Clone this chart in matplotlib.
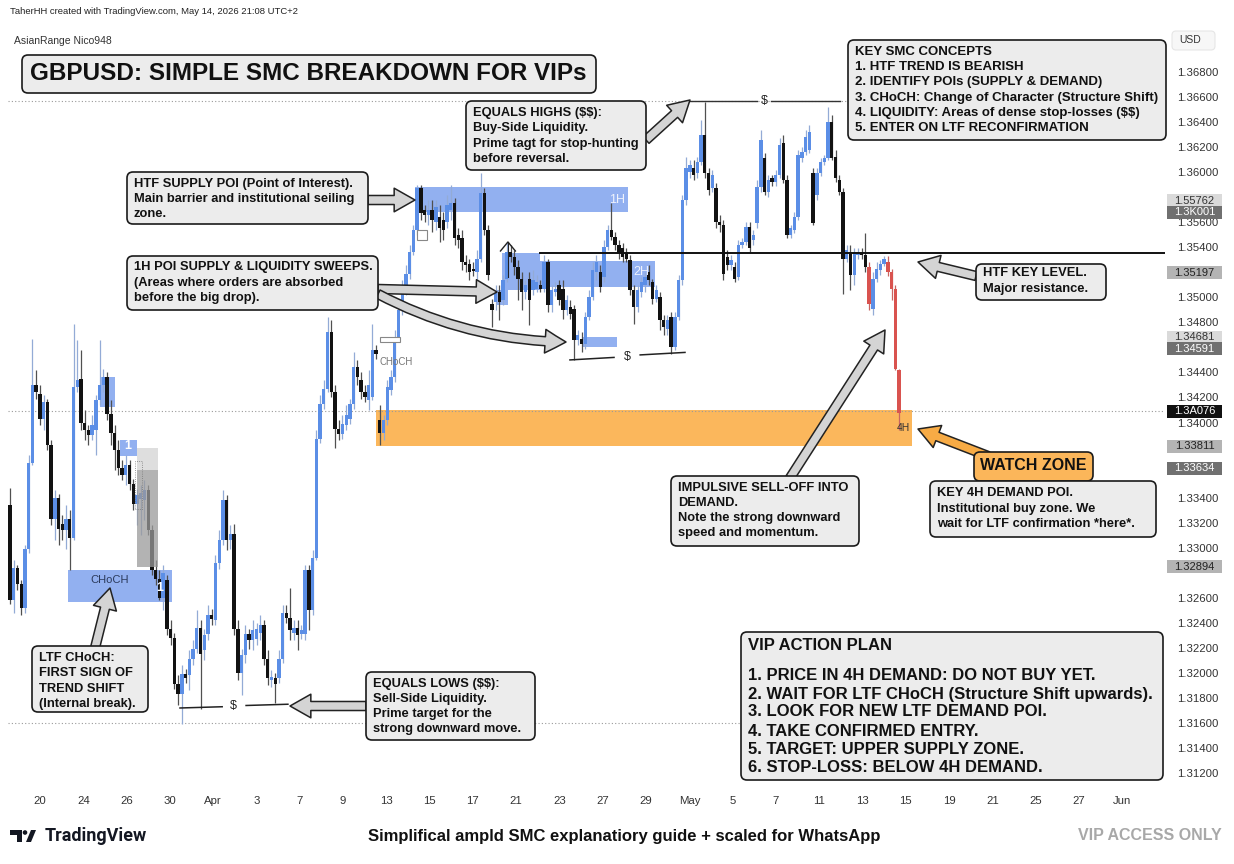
import numpy as np
import matplotlib
matplotlib.use("Agg")
import matplotlib.pyplot as plt
from matplotlib.patches import Rectangle, FancyBboxPatch, FancyArrowPatch, Circle, Polygon, ArrowStyle
from matplotlib.transforms import Affine2D

plt.rcParams['font.family'] = ['Liberation Sans', 'DejaVu Sans']
plt.rcParams['text.parse_math'] = False

W, H = 1234, 864
BASE, PIP = 1.3, 0.0001

# OHLC per bar, in pips above 1.30000
opens = [334, 258, 284, 271, 252, 299, 368, 430, 423, 403,
         416, 382, 323, 340, 319, 314, 323, 308, 428, 435,
         400, 394, 390, 394, 418, 430, 436, 407, 392, 378,
         364, 358, 366, 351, 335, 339, 338, 346, 314, 282,
         275, 260, 274, 235, 228, 191, 183, 199, 198, 211,
         219, 236, 218, 231, 246, 242, 288, 306, 338, 306,
         311, 235, 200, 214, 231, 226, 227, 232, 238, 211,
         194, 196, 196, 211, 248, 244, 232, 236, 231, 231,
         282, 250, 292, 387, 415, 427, 472, 424, 395, 391,
         398, 403, 415, 444, 434, 424, 418, 420, 458, 402,
         392, 402, 426, 436, 468, 490, 506, 519, 536, 554,
         587, 570, 566, 570, 560, 564, 562, 560, 570, 575,
         550, 547, 528, 527, 523, 520, 531, 583, 554, 495,
         496, 504, 498, 515, 536, 532, 524, 515, 504, 515,
         506, 507, 510, 507, 528, 494, 504, 510, 507, 490,
         492, 491, 466, 467, 463, 484, 500, 520, 520, 516,
         540, 554, 548, 542, 539, 535, 530, 506, 492, 504,
         510, 520, 512, 499, 500, 482, 475, 484, 460, 484,
         514, 578, 600, 603, 599, 608, 630, 599, 587, 587,
         560, 558, 532, 526, 524, 516, 542, 544, 556, 546,
         559, 588, 611, 584, 595, 592, 598, 623, 594,
         550, 554, 564, 611, 616, 618, 599, 582, 599, 608,
         611, 640, 612, 594, 584, 531, 536, 518, 534, 536,
         534, 524, 491, 515, 522, 527, 528, 520, 507, 442]
closes = [258, 284, 271, 252, 299, 368, 430, 424, 403, 416,
          382, 323, 340, 315, 314, 323, 308, 428, 434, 400,
          394, 390, 398, 418, 430, 436, 407, 392, 378, 364,
          358, 366, 351, 335, 342, 344, 346, 314, 282, 275,
          260, 280, 235, 228, 191, 183, 199, 196, 211, 219,
          236, 215, 230, 246, 243, 288, 306, 338, 306, 311,
          235, 200, 214, 231, 226, 234, 235, 238, 211, 196,
          197, 191, 211, 248, 244, 234, 236, 230, 234, 282,
          250, 292, 387, 415, 427, 472, 424, 395, 391, 399,
          406, 415, 444, 436, 424, 420, 430, 458, 455, 392,
          402, 428, 436, 468, 490, 508, 519, 536, 554, 587,
          567, 566, 570, 562, 572, 555, 554, 574, 575, 547,
          546, 528, 526, 520, 521, 531, 583, 554, 518, 490,
          504, 496, 514, 536, 532, 524, 515, 504, 510, 498,
          514, 512, 507, 528, 494, 506, 507, 498, 490, 498,
          487, 466, 470, 463, 484, 500, 522, 528, 508, 540,
          554, 548, 542, 535, 532, 531, 506, 492, 506, 512,
          516, 514, 499, 506, 482, 476, 482, 460, 484, 514,
          578, 603, 606, 598, 608, 630, 599, 586, 598, 560,
          558, 519, 526, 530, 515, 542, 544, 556, 539, 550,
          588, 626, 584, 594, 592, 598, 622, 594, 550,
          555, 564, 614, 616, 628, 632, 559, 599, 608, 611,
          640, 611, 595, 584, 531, 538, 518, 536, 536, 534,
          524, 495, 515, 523, 527, 531, 520, 507, 443, 408]
highs = [348, 290, 286, 274, 302, 374, 467, 442, 430, 422,
         419, 386, 346, 343, 326, 334, 330, 479, 466, 458,
         410, 398, 406, 422, 466, 443, 440, 418, 398, 386,
         370, 374, 370, 355, 347, 350, 354, 350, 318, 290,
         282, 286, 278, 242, 232, 198, 206, 203, 218, 226,
         250, 242, 235, 254, 251, 294, 314, 346, 342, 318,
         319, 242, 219, 238, 235, 242, 240, 246, 242, 218,
         202, 200, 218, 254, 254, 268, 242, 242, 238, 286,
         286, 298, 394, 422, 434, 484, 482, 430, 402, 406,
         414, 419, 456, 450, 440, 430, 442, 479, 462, 414,
         406, 434, 442, 474, 494, 514, 526, 542, 558, 590,
         590, 574, 578, 578, 578, 574, 568, 582, 590, 579,
         555, 554, 534, 531, 528, 538, 599, 587, 558, 499,
         510, 510, 518, 544, 542, 538, 530, 520, 514, 520,
         522, 518, 514, 534, 531, 510, 512, 514, 514, 502,
         498, 494, 474, 472, 488, 506, 528, 534, 526, 546,
         558, 575, 552, 546, 543, 539, 534, 510, 510, 516,
         520, 526, 515, 510, 504, 486, 486, 488, 488, 518,
         582, 612, 610, 610, 612, 642, 656, 603, 602, 591,
         566, 562, 538, 534, 528, 546, 547, 560, 560, 554,
         594, 634, 615, 598, 598, 602, 627, 630, 598,
         558, 568, 618, 620, 634, 638, 603, 603, 611, 614,
         652, 646, 618, 598, 587, 542, 542, 539, 539, 539,
         551, 528, 520, 528, 530, 533, 533, 523, 510, 443]
lows = [255, 248, 266, 246, 248, 296, 366, 419, 398, 394,
        378, 318, 306, 302, 306, 299, 282, 306, 424, 394,
        386, 382, 386, 374, 414, 424, 402, 382, 362, 358,
        354, 350, 346, 330, 318, 310, 322, 310, 278, 270,
        258, 250, 230, 222, 187, 174, 159, 192, 186, 206,
        216, 171, 210, 226, 238, 238, 283, 302, 298, 299,
        230, 194, 182, 208, 219, 218, 222, 226, 206, 190,
        189, 176, 192, 208, 240, 226, 226, 218, 227, 226,
        234, 246, 290, 384, 411, 424, 420, 380, 386, 387,
        394, 399, 411, 430, 419, 416, 410, 418, 451, 382,
        386, 398, 422, 432, 464, 486, 502, 515, 534, 550,
        562, 560, 558, 552, 554, 544, 546, 555, 562, 542,
        539, 522, 520, 514, 517, 515, 528, 550, 514, 476,
        490, 482, 494, 512, 528, 518, 498, 490, 499, 478,
        502, 504, 504, 504, 488, 488, 501, 494, 483, 486,
        483, 450, 462, 456, 459, 482, 498, 514, 504, 512,
        538, 546, 538, 531, 528, 528, 502, 479, 488, 500,
        504, 510, 495, 496, 474, 470, 470, 455, 458, 482,
        510, 574, 595, 594, 595, 606, 595, 582, 584, 555,
        552, 514, 522, 522, 512, 514, 539, 542, 536, 542,
        555, 584, 582, 580, 589, 589, 595, 591, 547,
        547, 551, 562, 608, 614, 615, 558, 578, 597, 606,
        610, 610, 592, 582, 503, 528, 506, 510, 531, 531,
        520, 490, 486, 512, 518, 525, 517, 498, 442, 394]

day_labels = ["20", "24", "26", "30", "Apr", "3", "7", "9", "13", "15", "17", "21", "23",
              "27", "29", "May", "5", "7", "11", "13", "15", "19", "21", "25", "27", "Jun"]
price_ticks = np.round(np.arange(1.312, 1.3681, 0.002), 3)

# zones: (first bar, last bar, low price, high price)
htf_supply = (108.4, 165.5, 1.3568, 1.3588)
sweep_2h = (131.7, 141.9, 1.3506, 1.3535)
poi_2h = (141.9, 172.7, 1.3508, 1.3529)
sweep_small = (130.4, 133.3, 1.3494, 1.3506)
ssl_box = (153.1, 162.5, 1.3460, 1.3468)
choch_box = (15.5, 43.4, 1.3257, 1.3282)
ltf_box_1 = (29.5, 34.0, 1.3373, 1.3386)
ltf_box_0 = (24.1, 28.1, 1.3412, 1.3436)
gray_top = (34.0, 39.6, 1.3362, 1.3380)
gray_body = (34.0, 39.6, 1.3285, 1.3362)
demand_4h = (98.0, 241.5, 1.3381, 1.3410)
key_level = 1.3535
equal_highs = 1.36568
equal_lows = 1.3160
last_price = 1.3409

badges = [("1.55762", 1.3577, "light"), ("1.3K001", 1.3568, "dark"),
          ("1.35197", 1.35197, "mid"), ("1.34681", 1.34681, "light"),
          ("1.34591", 1.34591, "dark"), ("1.3A076", last_price, "black"),
          ("1.33811", 1.33811, "mid"), ("1.33634", 1.33634, "dark"),
          ("1.32894", 1.3285, "mid")]

title_text = "GBPUSD: SIMPLE SMC BREAKDOWN FOR VIPs"
concepts = ["KEY SMC CONCEPTS", "1. HTF TREND IS BEARISH", "2. IDENTIFY POIs (SUPPLY & DEMAND)",
            "3. CHoCH: Change of Character (Structure Shift)",
            "4. LIQUIDITY: Areas of dense stop-losses ($$)", "5. ENTER ON LTF RECONFIRMATION"]
eqh_note = ["EQUALS HIGHS ($$):", "Buy-Side Liquidity.", "Prime tagt for stop-hunting", "before reversal."]
supply_note = ["HTF SUPPLY POI (Point of Interest).", "Main barrier and institutional seiling", "zone."]
sweep_note = ["1H POI SUPPLY & LIQUIDITY SWEEPS.", "(Areas where orders are absorbed", "before the big drop)."]
choch_note = ["LTF CHoCH:", "FIRST SIGN OF", "TREND SHIFT", "(Internal break)."]
eql_note = ["EQUALS LOWS ($$):", "Sell-Side Liquidity.", "Prime target for the", "strong downward move."]
impulse_note = ["IMPULSIVE SELL-OFF INTO", "DEMAND.", "Note the strong downward", "speed and momentum."]
key_note = ["HTF KEY LEVEL.", "Major resistance."]
demand_note = ["KEY 4H DEMAND POI.", "Institutional buy zone. We", "wait for LTF confirmation *here*."]
plan = ["VIP ACTION PLAN", "1. PRICE IN 4H DEMAND: DO NOT BUY YET.",
        "2. WAIT FOR LTF CHoCH (Structure Shift upwards).", "3. LOOK FOR NEW LTF DEMAND POI.",
        "4. TAKE CONFIRMED ENTRY.", "5. TARGET: UPPER SUPPLY ZONE.", "6. STOP-LOSS: BELOW 4H DEMAND."]

fig = plt.figure(figsize=(W / 100, H / 100), dpi=100)
fig.patch.set_facecolor('white')
ax = fig.add_axes([8 / W, 1 - 790 / H, (1165 - 8) / W, (790 - 25) / H])
pix = Affine2D().scale(1.0 / W, -1.0 / H).translate(0, 1) + fig.transFigure

o = BASE + np.array(opens) * PIP
c = BASE + np.array(closes) * PIP
hi = np.maximum(BASE + np.array(highs) * PIP, np.maximum(o, c))
lo = np.minimum(BASE + np.array(lows) * PIP, np.minimum(o, c))
n = len(o)
idx = np.arange(n)
up = c >= o
red = (~up) & (idx >= n - 9)
body_col = np.where(up, '#5b8ee6', '#121212').astype(object)
wick_col = np.where(up, '#93abd6', '#505050').astype(object)
body_col[red] = '#d9534f'
wick_col[red] = '#c96460'

ax.set_xlim(-0.535, 309.2)
ax.set_ylim(1.31065, 1.37175)


def zone(z, color, alpha=1.0, zo=1, ec='none', lw=0, ls='-'):
    ax.add_patch(Rectangle((z[0], z[2]), z[1] - z[0], z[3] - z[2], fc=color, alpha=alpha,
                           ec=ec, lw=lw, ls=ls, zorder=zo))


zone(demand_4h, '#fbb75c')
for z in (htf_supply, sweep_2h, poi_2h, sweep_small, ssl_box, choch_box, ltf_box_1, ltf_box_0):
    zone(z, '#7fa2ee', alpha=0.85)
zone(gray_top, '#d6d6d6', alpha=0.8, zo=4)
zone(gray_body, '#9a9a9a', alpha=0.75, zo=4)
zone((33.5, 35.3, 1.3331, 1.3369), 'none', ec='#777777', lw=0.6, ls=':', zo=5)
zone((109.0, 111.6, 1.3546, 1.3554), 'white', ec='#888888', lw=0.8, zo=5)
zone((99.0, 104.4, 1.3464, 1.3468), 'white', ec='#888888', lw=0.8, zo=5)

ax.vlines(idx, lo, hi, colors=list(wick_col), lw=0.9, zorder=2)
ax.bar(idx, np.maximum(np.abs(c - o), 0.00005), bottom=np.minimum(o, c), width=0.9,
       color=list(body_col), lw=0, zorder=3)

for lvl in (equal_highs, last_price, equal_lows):
    ax.axhline(lvl, color='#9a9a9a', lw=0.8, ls=(0, (1, 2)), zorder=1)
ax.plot([141.9, 309.2], [key_level, key_level], color='#111111', lw=1.4, zorder=5)
# liquidity lines with "$"
ax.plot([181.5, 200.0], [equal_highs] * 2, color='#333333', lw=1.0, zorder=5)
ax.plot([203.7, 222.2], [equal_highs] * 2, color='#333333', lw=1.0, zorder=5)
ax.text(201.9, equal_highs, "$", ha='center', va='center', fontsize=9, color='#222', zorder=5)
ax.plot([45.5, 56.8], [1.3172, 1.3173], color='#222222', lw=1.1, zorder=5)
ax.plot([63.2, 74.4], [1.3174, 1.3175], color='#222222', lw=1.1, zorder=5)
ax.text(59.8, 1.31735, "$", ha='center', va='center', fontsize=9, color='#222', zorder=5)
ax.plot([149.9, 161.7], [1.3450, 1.3452], color='#222222', lw=1.1, zorder=5)
ax.plot([168.7, 180.7], [1.3454, 1.3456], color='#222222', lw=1.1, zorder=5)
ax.text(165.2, 1.3452, "$", ha='center', va='center', fontsize=9, color='#222', zorder=5)
# sweep chevron
ax.plot([131.3, 133.3, 135.3], [1.3537, 1.35442, 1.3537], color='#222', lw=1.0, zorder=5)
ax.plot([133.3, 133.3], [1.35442, 1.3516], color='#222', lw=0.8, zorder=5)

ax.text(26.8, 1.3274, "CHoCH", ha='center', va='center', fontsize=8, color='#2b3a5c', zorder=5)
ax.text(40.2, 1.3268, "1", ha='center', va='center', fontsize=9, color='white', weight='bold', zorder=5)
ax.text(31.6, 1.3381, "1", ha='center', va='center', fontsize=9, color='white', weight='bold', zorder=5)
ax.text(162.5, 1.3578, "1H", ha='center', va='center', fontsize=9, color='#eef2fc', zorder=5)
ax.text(168.9, 1.3520, "2H", ha='center', va='center', fontsize=9, color='#eef2fc', zorder=5)
ax.text(239.1, 1.3396, "4H", ha='center', va='center', fontsize=7.5, color='#333', zorder=5)
ax.text(103.3, 1.3448, "CHoCH", ha='center', va='center', fontsize=7, color='#777', zorder=5)

# axes styling; scale labels hidden behind a badge are left out
for s in ax.spines.values():
    s.set_visible(False)
ax.yaxis.tick_right()
ax.set_yticks(price_ticks)
hidden = [p for p in price_ticks if any(abs(p - b[1]) < 0.0007 for b in badges)]
ax.set_yticklabels(["" if p in hidden else f"{p:.5f}" for p in price_ticks])
ax.set_xticks(8.03 + 11.59 * np.arange(len(day_labels)))
ax.set_xticklabels(day_labels)
ax.tick_params(axis='y', length=0, pad=8.5, labelsize=8.2, labelcolor='#333333')
ax.tick_params(axis='x', length=0, pad=4, labelsize=8.2, labelcolor='#333333')
ax.set_facecolor('white')

# price badges on the scale
fig.canvas.draw()
for txt, price, kind in badges:
    yp = H - ax.transData.transform((0, price))[1]
    fc, tc = {"light": ('#dadada', '#333333'), "mid": ('#b4b4b4', '#222222'),
              "dark": ('#707070', 'white'), "black": ('#111111', 'white')}[kind]
    fig.add_artist(Rectangle((1167, yp - 6.5), 55, 13, transform=pix, fc=fc, ec='none', zorder=8))
    fig.text(1194.5, yp, txt, transform=pix, ha='center', va='center', fontsize=8, color=tc, zorder=9)


def note(x0, y0, x1, y1, lines, ys, size=9.3, fc='#ececec', tx=None, ha='left'):
    fig.add_artist(FancyBboxPatch((x0, y0), x1 - x0, y1 - y0, boxstyle="round,pad=0,rounding_size=6",
                                  transform=pix, fc=fc, ec='#1a1a1a', lw=1.2, zorder=7))
    for s, y in zip(lines, ys):
        fig.text(tx if tx is not None else x0 + 7, y, s, transform=pix, ha=ha, va='center',
                 fontsize=size, weight='bold', color='#111111', zorder=8)


def arrow(p0, p1, fc='#d4d4d4', rad=0.0):
    fig.add_artist(FancyArrowPatch(p0, p1, transform=pix,
                                   arrowstyle=ArrowStyle.Simple(head_length=15, head_width=17, tail_width=6.5),
                                   connectionstyle=f"arc3,rad={rad}", fc=fc, ec='#222222', lw=1.1,
                                   shrinkA=0, shrinkB=0, zorder=6))


arrow((646, 140), (690, 100))
arrow((368, 200), (415, 200))
arrow((378, 289), (497, 292))
arrow((378, 294), (566, 342), rad=0.12)
arrow((95, 648), (110, 588))
arrow((366, 706), (290, 706))
arrow((790, 478), (885, 330))
arrow((976, 276), (918, 262))
arrow((988, 456), (918, 429), fc='#f7ab45')

note(22, 55, 596, 93, [title_text], [74], size=17.5, tx=30)
note(848, 40, 1166, 140, concepts, [52, 67, 82, 98, 113, 128], size=9.5)
note(466, 101, 646, 170, eqh_note, [113, 128, 144, 159])
note(127, 172, 368, 224, supply_note, [184, 199, 214])
note(127, 256, 378, 310, sweep_note, [267, 283, 298])
note(32, 646, 148, 712, choch_note, [658, 673, 689, 704])
note(366, 672, 535, 740, eql_note, [684, 699, 714, 729])
note(671, 476, 859, 546, impulse_note, [488, 503, 518, 533])
note(976, 264, 1106, 300, key_note, [273, 289])
note(974, 452, 1093, 481, ["WATCH ZONE"], [466], size=11.5, fc='#fbb65a', tx=1033.5, ha='center')
note(930, 481, 1156, 537, demand_note, [493, 509, 524])
note(741, 632, 1163, 780, plan, [646, 675, 694, 712, 731, 750, 768], size=12)

# header, scale currency and footer
fig.text(10, 12, "TaherHH created with TradingView.com, May 14, 2026 21:08 UTC+2", transform=pix,
         va='center', fontsize=6.8, color='#222222')
fig.text(14, 41, "AsianRange Nico948", transform=pix, va='center', fontsize=7.5, color='#333333')
fig.add_artist(FancyBboxPatch((1172, 31), 43, 19, boxstyle="round,pad=0,rounding_size=4", transform=pix,
                              fc='#f7f7f7', ec='#e6e6e6', lw=0.8))
fig.text(1190, 40, "USD", transform=pix, ha='center', va='center', fontsize=7.5, color='#333333')

fig.add_artist(Polygon([(10, 830), (22, 830), (22, 842), (17, 842), (17, 835), (10, 835)],
                       closed=True, transform=pix, fc='#131722', ec='none'))
fig.add_artist(Circle((25, 832.5), 2.3, transform=pix, fc='#131722', ec='none'))
fig.add_artist(Polygon([(26, 842), (31, 830), (36, 830), (31, 842)], closed=True, transform=pix,
                       fc='#131722', ec='none'))
fig.text(45, 836, "TradingView", transform=pix, va='center', fontsize=13, weight='bold',
         color='#131722', family=['Roboto', 'Liberation Sans', 'DejaVu Sans'])
fig.text(624, 836, "Simplifical ampld SMC explanatiory guide + scaled for WhatsApp", transform=pix,
         ha='center', va='center', fontsize=12, weight='bold', color='#111111')
fig.text(1222, 836, "VIP ACCESS ONLY", transform=pix, ha='right', va='center', fontsize=11.5,
         weight='bold', color='#a8a8a8')

fig.savefig("out.png", dpi=100)
